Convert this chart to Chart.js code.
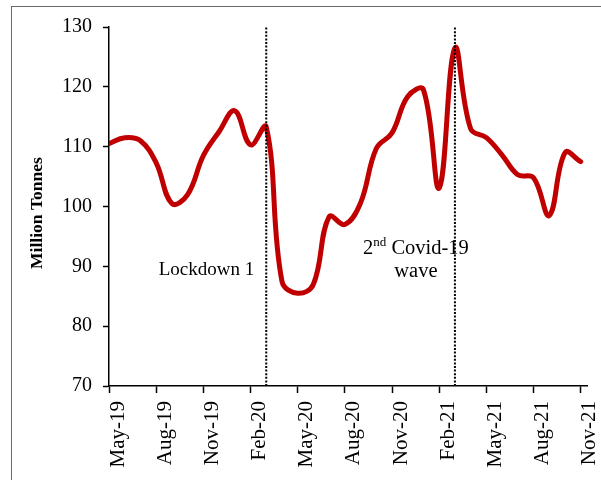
<!DOCTYPE html>
<html>
<head>
<meta charset="utf-8">
<script src="https://cdn.jsdelivr.net/npm/chart.js@4.4.0/dist/chart.umd.min.js"></script>
<style>
  html, body { margin: 0; padding: 0; background: #fff; overflow: hidden; }
  #wrap { position: relative; width: 601px; height: 480px; }
  #frame { position: absolute; left: 11px; top: 6px; width: 620px; height: 520px; border: 1.5px solid #6a6a6a; pointer-events: none; }
  canvas { position: absolute; left: 0; top: 0; }
</style>
</head>
<body>
<div id="wrap">
  <canvas id="chart" width="601" height="480"></canvas>
  <div id="frame"></div>
</div>
<script>
const months = [
    "May-19", "Jun-19", "Jul-19", "Aug-19", "Sep-19", "Oct-19", "Nov-19", "Dec-19",
    "Jan-20", "Feb-20", "Mar-20", "Apr-20", "May-20", "Jun-20", "Jul-20", "Aug-20",
    "Sep-20", "Oct-20", "Nov-20", "Dec-20", "Jan-21", "Feb-21", "Mar-21", "Apr-21",
    "May-21", "Jun-21", "Jul-21", "Aug-21", "Sep-21", "Oct-21", "Nov-21",
];
const tonnes = [
    110.5, 111.5, 111.0, 107.3, 100.5, 102.0, 108.5, 112.5,
    116.0, 110.3, 113.3, 87.5, 85.5, 87.0, 98.3, 97.0,
    100.6, 109.7, 112.3, 118.4, 119.5, 103.1, 126.5, 113.0,
    111.5, 108.6, 105.3, 104.8, 98.5, 109.0, 107.5,
];
const tickLabels = ["May-19", "Aug-19", "Nov-19", "Feb-20", "May-20", "Aug-20", "Nov-20", "Feb-21", "May-21", "Aug-21", "Nov-21"];
const yTicks = [70, 80, 90, 100, 110, 120, 130];
const events = ["Mar-20", "Mar-21"];

const serif = "'Liberation Serif', 'Times New Roman', serif";

// text notes next to the two dotted lines
const notesPlugin = {
    id: "notes",
    afterDatasetsDraw(chart) {
        const { ctx, scales: { x, y } } = chart;
        const x1 = x.getPixelForValue(months.indexOf(events[0]));
        const x2 = x.getPixelForValue(months.indexOf(events[1]));
        ctx.save();
        ctx.fillStyle = "#000";
        ctx.textBaseline = "middle";

        ctx.font = "19px " + serif;
        ctx.textAlign = "right";
        ctx.fillText("Lockdown 1", x1 - 12, y.getPixelForValue(89.4));

        // "2nd Covid-19" with superscript
        const cx = x2 - 39;
        const cy = y.getPixelForValue(92.9);
        ctx.textAlign = "left";
        ctx.font = "20.5px " + serif;
        const w2 = ctx.measureText("2").width;
        const wRest = ctx.measureText(" Covid-19").width;
        ctx.font = "13px " + serif;
        const wSup = ctx.measureText("nd").width;
        let sx = cx - (w2 + wSup + wRest) / 2;
        ctx.font = "20.5px " + serif;
        ctx.fillText("2", sx, cy);
        ctx.font = "13px " + serif;
        ctx.fillText("nd", sx + w2, cy - 6);
        ctx.font = "20.5px " + serif;
        ctx.fillText(" Covid-19", sx + w2 + wSup, cy);

        ctx.textAlign = "center";
        ctx.fillText("wave", cx, y.getPixelForValue(89.1));
        ctx.restore();
    },
};

const eventSets = events.map(function (m) {
    const i = months.indexOf(m);
    return {
        data: [{ x: i, y: yTicks[0] }, { x: i, y: yTicks[yTicks.length - 1] }],
        borderColor: "#000",
        borderWidth: 2,
        borderDash: [2, 1.6],
        pointRadius: 0,
        tension: 0,
        order: 1,
    };
});

new Chart(document.getElementById("chart"), {
    type: "line",
    data: {
        datasets: [
            {
                label: "Million Tonnes",
                data: tonnes.map((v, i) => ({ x: i, y: v })),
                borderColor: "#c00000",
                borderWidth: 5,
                pointRadius: 0,
                tension: 0.4,
                borderCapStyle: "round",
                order: 2,
            },
        ].concat(eventSets),
    },
    options: {
        responsive: false,
        animation: false,
        layout: { padding: { top: 27, right: 14, left: 0, bottom: 0 } },
        plugins: { legend: { display: false }, tooltip: { enabled: false } },
        scales: {
            x: {
                type: "linear",
                min: 0,
                max: 30.4,
                afterBuildTicks: function (scale) {
                    scale.ticks = tickLabels.map((l) => ({ value: months.indexOf(l) }));
                },
                afterFit: function (scale) {
                    scale.height = 94;
                    scale.paddingLeft = 0;
                    scale.paddingRight = 0;
                },
                ticks: {
                    autoSkip: false,
                    includeBounds: false,
                    minRotation: 90,
                    maxRotation: 90,
                    padding: 8,
                    labelOffset: 9,
                    color: "#000",
                    font: { family: serif, size: 21 },
                    callback: (v) => months[v],
                },
                grid: { drawOnChartArea: false, tickLength: 7, tickColor: "#000", tickWidth: 1.5 },
                border: { color: "#000", width: 1.5 },
            },
            y: {
                min: 70,
                max: 130,
                afterBuildTicks: function (scale) {
                    scale.ticks = yTicks.map((v) => ({ value: v }));
                },
                afterFit: function (scale) {
                    scale.width = 109;
                    scale.paddingTop = 0;
                    scale.paddingBottom = 0;
                },
                ticks: {
                    padding: 11,
                    color: "#000",
                    font: { family: serif, size: 20 },
                },
                title: {
                    display: true,
                    text: "Million Tonnes   ",
                    color: "#000",
                    font: { family: serif, size: 17.5, weight: "bold" },
                    padding: { top: 27, bottom: 0 },
                },
                grid: { drawOnChartArea: false, tickLength: 6, tickColor: "#000", tickWidth: 1.5 },
                border: { color: "#000", width: 1.5 },
            },
        },
    },
    plugins: [notesPlugin],
});
</script>
</body>
</html>
